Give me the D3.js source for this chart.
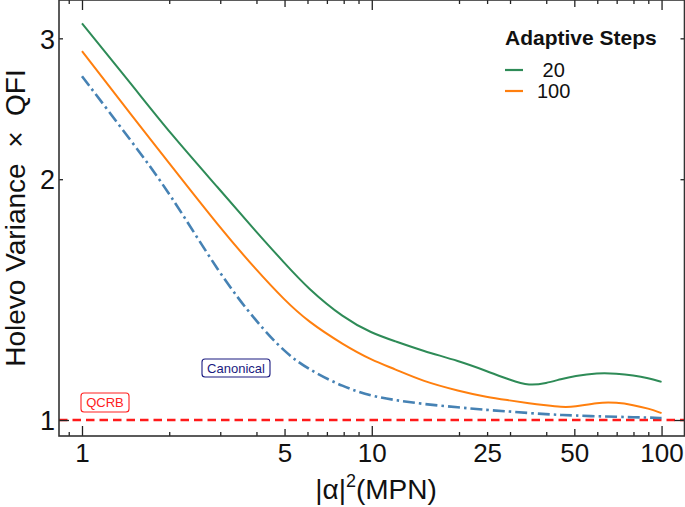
<!DOCTYPE html>
<html><head><meta charset="utf-8">
<script src="https://cdn.jsdelivr.net/npm/d3@7"></script>
<style>
html,body{margin:0;padding:0;background:#fff;}
svg{display:block;font-family:"Liberation Sans",Arial,sans-serif;}
</style></head>
<body><svg id="c" width="685" height="507"></svg>
<script>
const mpn = [1,1.5,2,3,4,5,6,8,10,12,15,20,25,30,35,40,45,50,60,70,80,90,100];
const steps20 = [3.132,2.614,2.290,1.938,1.717,1.571,1.462,1.341,1.284,1.255,1.220,1.185,1.151,1.122,1.103,1.112,1.125,1.135,1.145,1.143,1.137,1.128,1.116];
const steps100 = [2.891,2.391,2.094,1.737,1.539,1.412,1.329,1.241,1.188,1.158,1.118,1.087,1.068,1.058,1.049,1.043,1.038,1.038,1.052,1.052,1.044,1.034,1.020];
const canonical = [2.690,2.218,1.927,1.517,1.326,1.216,1.158,1.099,1.071,1.059,1.047,1.037,1.029,1.0248,1.020,1.017,1.0145,1.013,1.0107,1.0092,1.0081,1.0069,1.0058];
const qcrb = 1;
const xLabelTicks = [1,5,10,25,50,100];
const xMajorTicks = [1,10,100];
const xMidTicks = [5,50];
const xMinorTicks = [0.9,2,3,4,6,7,8,9,20,25,30,40,60,70,80,90];
const yLabelTicks = [1,2,3];
const legendTitle = "Adaptive Steps";
const legendLabels = [" 20","100"];

const svg = d3.select("#c");
const L=59, R=684.5, T=0, B=436;
const x = d3.scaleLog().domain([0.833,120]).range([L,R]);
const y = d3.scaleLog().domain([0.955,3.35]).range([B,T]);

const plot = svg.append("g");
svg.append("clipPath").attr("id","clip").append("rect").attr("x",L).attr("y",T).attr("width",R-L).attr("height",B-T);
const g = plot.append("g").attr("clip-path","url(#clip)");

// QCRB line
g.append("line").attr("x1",L).attr("x2",R).attr("y1",y(qcrb)).attr("y2",y(qcrb))
  .attr("stroke","#ff1a1a").attr("stroke-width",2.5).attr("stroke-dasharray","8.5,5");

const line = d3.line().x(d=>x(d[0])).y(d=>y(d[1])).curve(d3.curveBasis);
const series = [
  {v:canonical,c:"#4682b4",dash:"12,4,2.5,4",w:2.6},
  {v:steps100,c:"#ff7f0e",dash:null,w:2},
  {v:steps20,c:"#2e8b57",dash:null,w:2}
];
series.forEach(s=>{
  g.append("path").datum(mpn.map((m,i)=>[m,s.v[i]])).attr("d",line)
   .attr("fill","none").attr("stroke",s.c).attr("stroke-width",s.w)
   .attr("stroke-dasharray",s.dash).attr("stroke-linecap","butt");
});

// axes ticks
const tickCol="#222";
function xt(vals,len){
  plot.append("g").attr("transform",`translate(0,${B})`)
   .call(d3.axisBottom(x).tickValues(vals).tickSize(-len).tickFormat(""))
   .call(a=>a.select(".domain").remove());
  plot.append("g").attr("transform",`translate(0,${T})`)
   .call(d3.axisTop(x).tickValues(vals).tickSize(-len).tickFormat(""))
   .call(a=>a.select(".domain").remove());
}
xt(xMajorTicks,10); xt(xMidTicks,7); xt(xMinorTicks,4);
function yt(vals,len){
  plot.append("g").attr("transform",`translate(${L},0)`)
   .call(d3.axisLeft(y).tickValues(vals).tickSize(-len).tickFormat(""))
   .call(a=>a.select(".domain").remove());
  plot.append("g").attr("transform",`translate(${R},0)`)
   .call(d3.axisRight(y).tickValues(vals).tickSize(-len).tickFormat(""))
   .call(a=>a.select(".domain").remove());
}
yt([1],10); yt([2,3],4);
plot.selectAll(".tick line").attr("stroke",tickCol).attr("stroke-width",1.3);

// labels
const xl = plot.append("g").attr("transform",`translate(0,${B})`)
  .call(d3.axisBottom(x).tickValues(xLabelTicks).tickSize(0).tickPadding(0).tickFormat(d3.format("d")));
xl.select(".domain").remove();
xl.selectAll("text").attr("y",26).attr("dy",0).attr("font-size",26).attr("fill","#111")
  .attr("font-family","Liberation Sans, Arial, sans-serif");
const yl = plot.append("g").attr("transform",`translate(${L},0)`)
  .call(d3.axisLeft(y).tickValues(yLabelTicks).tickSize(0).tickFormat(d3.format("d")));
yl.select(".domain").remove();
yl.selectAll("text").attr("x",-4).attr("dy","0.36em").attr("font-size",27).attr("fill","#111")
  .attr("font-family","Liberation Sans, Arial, sans-serif");

// frame
svg.append("rect").attr("x",L).attr("y",T).attr("width",R-L).attr("height",B-T)
  .attr("fill","none").attr("stroke","#333").attr("stroke-width",1.6);

// axis titles
const xt2 = svg.append("text").attr("x",376).attr("y",499).attr("text-anchor","middle")
  .attr("font-size",28).attr("fill","#111");
xt2.append("tspan").text("|α|");
xt2.append("tspan").attr("font-size",18).attr("dy",-12).text("2");
xt2.append("tspan").attr("dy",12).text("(MPN)");
svg.append("text").attr("transform","translate(25,218) rotate(-90)").attr("text-anchor","middle")
  .attr("font-size",28).attr("fill","#111").style("white-space","pre")
  .text("Holevo Variance  ×  QFI");

// legend
svg.append("text").attr("x",505).attr("y",45).attr("font-size",21).attr("font-weight","bold")
  .attr("fill","#111").text(legendTitle);
[["#2e8b57",70,77],["#ff7f0e",91,98]].forEach((e,i)=>{
  svg.append("line").attr("x1",505).attr("x2",523).attr("y1",e[1]).attr("y2",e[1])
    .attr("stroke",e[0]).attr("stroke-width",2.2);
  svg.append("text").attr("x",537).attr("y",e[2]).attr("font-size",20).attr("fill","#111")
    .style("white-space","pre").text(legendLabels[i]);
});

// annotation boxes
function box(cx,cy,w,h,txt,col,fs){
  svg.append("rect").attr("x",cx-w/2).attr("y",cy-h/2).attr("width",w).attr("height",h)
    .attr("rx",3).attr("fill","#fff").attr("stroke",col).attr("stroke-width",1.1);
  svg.append("text").attr("x",cx).attr("y",cy).attr("dy","0.36em").attr("text-anchor","middle")
    .attr("font-size",fs).attr("fill",col).text(txt);
}
box(105,402.5,48,19,"QCRB","#ff2020",13);
box(236,368,68,18,"Canonical","#1a1a80",13);
</script></body></html>
